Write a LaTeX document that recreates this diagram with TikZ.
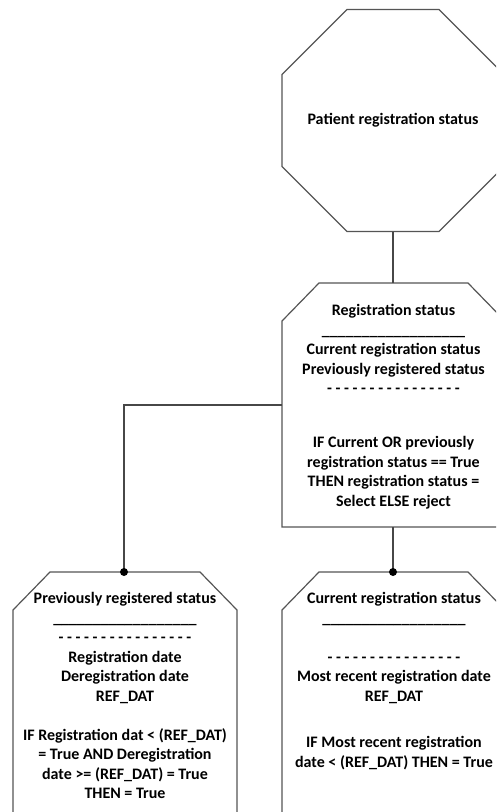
\documentclass[tikz,border=0pt]{standalone}
\usepackage{fontspec}
\setmainfont{Carlito}
\usetikzlibrary{shapes.geometric}
\definecolor{edgegray}{HTML}{555555}
\definecolor{linkgray}{HTML}{474747}
\tikzset{
  boxline/.style={draw=edgegray, line width=1.2pt, line join=miter},
  link/.style={draw=linkgray, line width=1.2pt},
  junction/.style={circle, fill=black, inner sep=0pt, minimum size=8pt},
  label/.style={align=center, inner sep=0pt, text=black,
    font=\fontsize{16}{19.5}\selectfont\bfseries},
}
\newcommand{\uline}{\_\_\_\_\_\_\_\_\_\_\_\_\_\_\_\_\_\_}
\newcommand{\dline}{- - - - - - - - - - - - - - - -}
\begin{document}
\begin{tikzpicture}[x=1pt, y=-1pt]
  \useasboundingbox (0,0) rectangle (496,812);
  \clip (0,0) rectangle (496,812);
  \fill[white] (0,0) rectangle (496,812);

  % top octagon
  \node[boxline, regular polygon, regular polygon sides=8,
        minimum size=240.3pt, inner sep=0pt, outer sep=0pt] (top) at (393,120.5) {};
  \node[label] (toptext) at (393,120.5) {Patient registration status};

  % middle box with chamfered upper corners
  \draw[boxline] (282,527) -- (282,321) -- (319,283) -- (468,283) -- (505,321) -- (505,527) -- cycle;
  \coordinate (midN) at (393,283);
  \coordinate (midW) at (282,405);
  \coordinate (midS) at (393,527);
  \node[label, anchor=north] (midtext) at (393.5,304.5) {%
    Registration status\\
    \uline\\
    Current registration status\\
    Previously registered status\\
    \dline\\[34.5pt]
    IF Current OR previously\\
    registration status == True\\
    THEN registration status =\\
    Select ELSE reject};

  % lower left box
  \draw[boxline] (13,830) -- (13,610) -- (50,572) -- (200,572) -- (237,610) -- (237,830);
  \coordinate (leftN) at (124,572);
  \node[label, anchor=north] (lefttext) at (125,592.5) {%
    Previously registered status\\
    \uline\\
    \dline\\
    Registration date\\
    Deregistration date\\
    REF\_DAT\\[19.5pt]
    IF Registration dat < (REF\_DAT)\\
    = True AND Deregistration\\
    date >= (REF\_DAT) = True\\
    THEN = True};

  % lower right box
  \draw[boxline] (282,830) -- (282,610) -- (319,572) -- (468,572) -- (505,610) -- (505,830);
  \coordinate (rightN) at (393,572);
  \node[label, anchor=north] (righttext) at (394,592.5) {%
    Current registration status\\
    \uline\\[19.5pt]
    \dline\\
    Most recent registration date\\
    REF\_DAT\\[27pt]
    IF Most recent registration\\
    date < (REF\_DAT) THEN = True};

  % connectors
  \draw[link] (top.south) -- (midN);
  \draw[link] (midW) -| (leftN);
  \draw[link] (midS) -- (rightN);
  \node[junction] (jl) at (leftN) {};
  \node[junction] (jr) at (rightN) {};
\end{tikzpicture}
\end{document}
